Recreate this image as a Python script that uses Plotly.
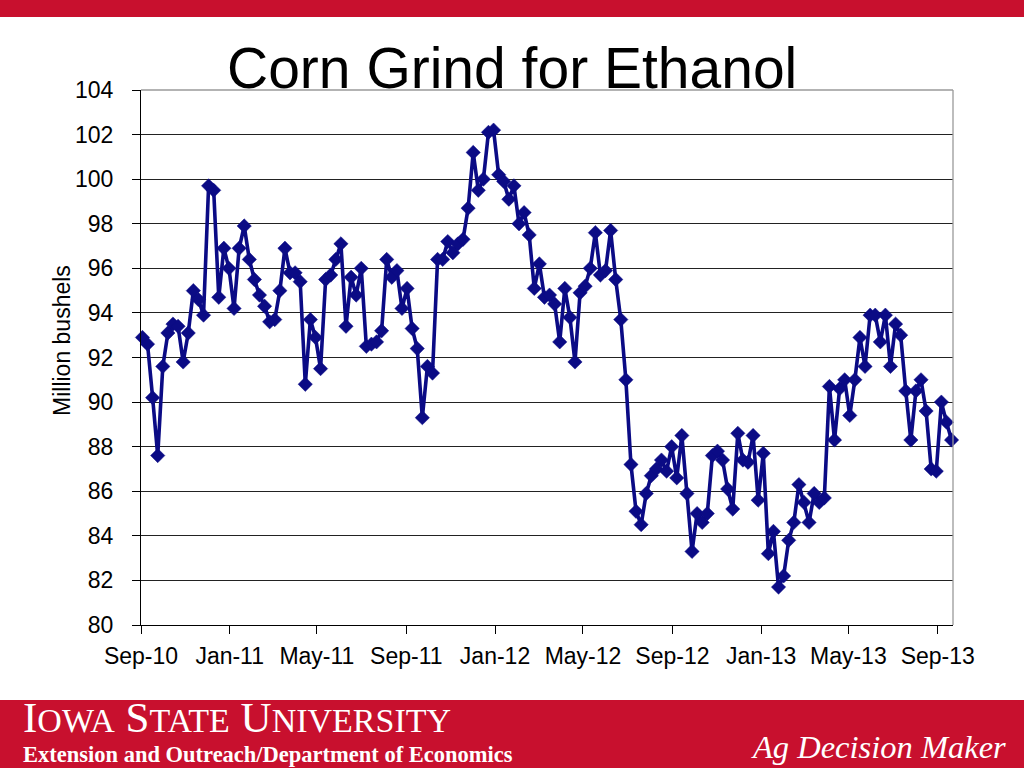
import pandas as pd
import plotly.graph_objects as go

title_text = "Corn Grind for Ethanol"
y_title = "Million bushels"
start_date = "2010-09-03"

corn_grind = [
    92.9, 92.6, 90.2, 87.6, 91.6, 93.1, 93.5, 93.4, 91.8, 93.1,
    95.0, 94.6, 93.9, 99.7, 99.5, 94.7, 96.9, 96.0, 94.2, 96.9,
    97.9, 96.4, 95.5, 94.8, 94.3, 93.6, 93.7, 95.0, 96.9, 95.8,
    95.8, 95.4, 90.8, 93.7, 92.9, 91.5, 95.5, 95.7, 96.4, 97.1,
    93.4, 95.6, 94.8, 96.0, 92.5, 92.6, 92.7, 93.2, 96.4, 95.6,
    95.9, 94.2, 95.1, 93.3, 92.4, 89.3, 91.6, 91.3, 96.4, 96.4,
    97.2, 96.7, 97.1, 97.3, 98.7, 101.2, 99.5, 100.0, 102.1, 102.2,
    100.2, 99.9, 99.1, 99.7, 98.0, 98.5, 97.5, 95.1, 96.2, 94.7,
    94.8, 94.4, 92.7, 95.1, 93.8, 91.8, 94.9, 95.2, 96.0, 97.6,
    95.7, 95.9, 97.7, 95.5, 93.7, 91.0, 87.2, 85.1, 84.5, 85.9,
    86.7, 87.0, 87.4, 86.9, 88.0, 86.6, 88.5, 85.9, 83.3, 85.0,
    84.6, 85.0, 87.6, 87.8, 87.4, 86.1, 85.2, 88.6, 87.4, 87.3,
    88.5, 85.6, 87.7, 83.2, 84.2, 81.7, 82.2, 83.8, 84.6, 86.3,
    85.5, 84.6, 85.9, 85.5, 85.7, 90.7, 88.3, 90.6, 91.0, 89.4,
    91.0, 92.9, 91.6, 93.9, 93.9, 92.7, 93.9, 91.6, 93.5, 93.0,
    90.5, 88.3, 90.5, 91.0, 89.6, 87.0, 86.9, 90.0, 89.1, 88.3,
]
weeks = pd.date_range(start=start_date, periods=len(corn_grind), freq="7D")

W, H = 1024, 768
L, R, T, B = 141, 953, 90, 625
pw, ph = R - L, B - T

def px(x):
    return (x - L) / pw

def py(y):
    return (B - y) / ph

RED = "#C8102E"
NAVY = "#0B0B85"

fig = go.Figure()
fig.add_trace(go.Scatter(
    x=weeks, y=corn_grind, mode="lines+markers",
    line=dict(color=NAVY, width=3.6),
    marker=dict(symbol="diamond", size=11, color=NAVY, line=dict(color=NAVY, width=0.5)),
    cliponaxis=False, showlegend=False, hoverinfo="skip",
))

fig.update_layout(
    width=W, height=H,
    margin=dict(l=L, r=W - R, t=T, b=H - B, pad=0),
    paper_bgcolor="white", plot_bgcolor="white",
    font=dict(family="Liberation Sans, Arial", color="black"),
    xaxis=dict(
        type="date", range=["2010-09-01", "2013-09-22"],
        tick0="2010-09-01", dtick="M4", tickformat="%b-%y",
        showgrid=False, showline=True, linecolor="black", linewidth=1.3,
        ticks="outside", ticklen=8, tickcolor="black", tickwidth=1.3,
        tickfont=dict(size=23, color="black"), ticklabelstandoff=2,
        zeroline=False,
    ),
    yaxis=dict(
        range=[80, 104], dtick=2, tick0=80,
        showgrid=True, gridcolor="#222222", gridwidth=1,
        showline=True, linecolor="black", linewidth=1.3,
        ticks="outside", ticklen=8, tickcolor="black", tickwidth=1.3,
        tickfont=dict(size=23, color="black"), ticklabelstandoff=14,
        zeroline=False,
    ),
    shapes=[
        dict(type="rect", xref="paper", yref="paper", x0=px(0), x1=px(W), y0=py(17), y1=py(0),
             fillcolor=RED, line=dict(width=0), layer="above"),
        dict(type="rect", xref="paper", yref="paper", x0=px(0), x1=px(W), y0=py(768), y1=py(700),
             fillcolor=RED, line=dict(width=0), layer="above"),
        dict(type="line", xref="paper", yref="paper", x0=0, x1=1, y0=1, y1=1,
             line=dict(color="#9a9a9a", width=1.3)),
        dict(type="line", xref="paper", yref="paper", x0=1, x1=1, y0=0, y1=1,
             line=dict(color="#9a9a9a", width=1.3)),
    ],
    annotations=[
        dict(text=title_text, xref="paper", yref="paper", x=px(512), y=py(68),
             xanchor="center", yanchor="middle", showarrow=False,
             font=dict(size=57, family="Liberation Sans, Arial", color="black")),
        dict(text=y_title, xref="paper", yref="paper", x=px(62), y=py(341),
             xanchor="center", yanchor="middle", showarrow=False, textangle=-90,
             font=dict(size=23, family="Liberation Sans, Arial", color="black")),
        dict(text="I<span style='font-size:34px'>OWA</span> S<span style='font-size:34px'>TATE</span> U<span style='font-size:34px'>NIVERSITY</span>",
             xref="paper", yref="paper", x=px(21), y=py(717),
             xanchor="left", yanchor="middle", showarrow=False,
             font=dict(size=43, family="Liberation Serif, Times New Roman", color="white")),
        dict(text="<b>Extension and Outreach/Department of Economics</b>",
             xref="paper", yref="paper", x=px(21), y=py(754),
             xanchor="left", yanchor="middle", showarrow=False,
             font=dict(size=22.5, family="Liberation Serif, Times New Roman", color="white")),
        dict(text="<i>Ag Decision Maker</i>",
             xref="paper", yref="paper", x=px(1008), y=py(747),
             xanchor="right", yanchor="middle", showarrow=False,
             font=dict(size=32.5, family="Liberation Serif, Times New Roman", color="white")),
    ],
)

fig.write_html(
    "out.html",
    config={"displayModeBar": False},
    post_script="document.body.style.margin='0';document.body.style.overflow='hidden';",
)
